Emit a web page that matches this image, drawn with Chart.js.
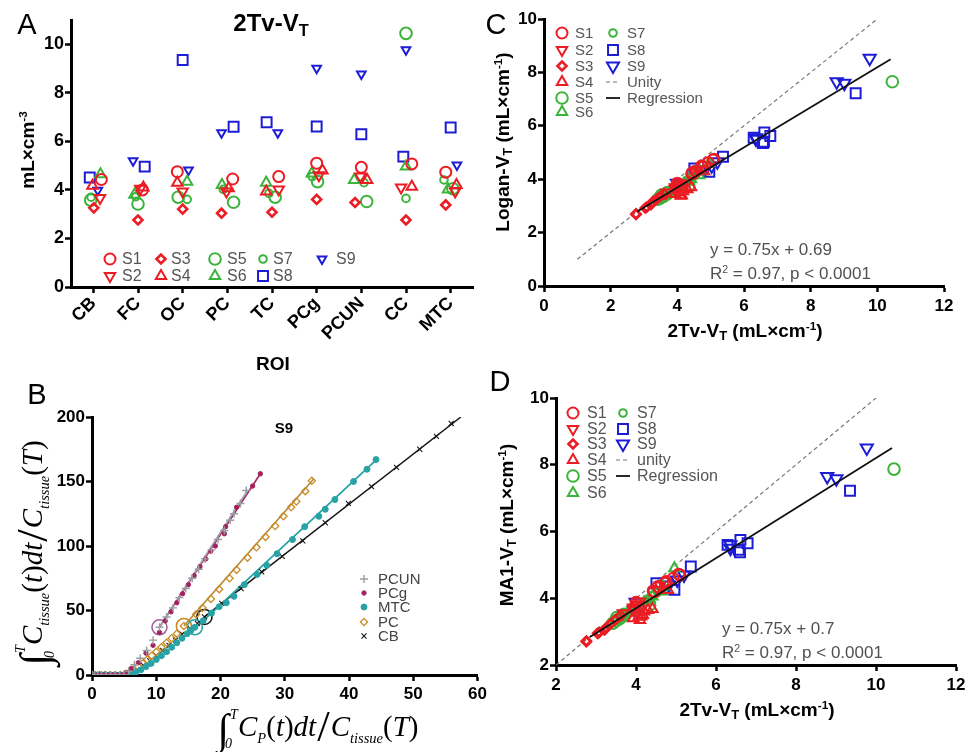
<!DOCTYPE html>
<html>
<head>
<meta charset="utf-8">
<script src="https://cdn.jsdelivr.net/npm/chart.js@4.4.1/dist/chart.umd.min.js"></script>
<style>
  html, body { margin: 0; padding: 0; background: #fff; }
  #page { position: relative; width: 971px; height: 752px; overflow: hidden; font-family: "Liberation Sans", Arial, sans-serif; }
  canvas { position: absolute; }
  .t { position: absolute; white-space: nowrap; line-height: 1; color: #000; z-index: 5; }
  .c { transform: translate(-50%, -50%); }
  .l { transform: translate(0, -50%); }
  .r90 { transform: translate(-50%, -50%) rotate(-90deg); }
  .b { font-weight: bold; }
  .panel { font-size: 29px; }
  sub { font-size: 0.68em; vertical-align: -0.3em; line-height: 0; }
  sup { font-size: 0.62em; vertical-align: 0.55em; line-height: 0; }
  .eq { font-size: 17px; color: #505050; }
  .math { font-family: "Liberation Serif", "DejaVu Serif", serif; font-size: 29px; }
  .math i { font-style: italic; }
  .math .int { font-size: 1.45em; font-style: italic; vertical-align: -0.18em; }
  .math .lim { display: inline-block; position: relative; width: 9px; height: 1px; font-size: 14px; font-style: italic; }
  .math .lim .up { position: absolute; left: 1px; top: -27px; }
  .math .lim .lo { position: absolute; left: -4px; top: 2px; }
  .math .sl { font-size: 1.55em; vertical-align: -0.12em; margin: 0 1px; }
  .math sub { font-size: 0.5em; vertical-align: -0.5em; }
</style>
</head>
<body>
<div id="page">
  <canvas id="cA" width="490" height="380" style="left:0;top:0"></canvas>
  <canvas id="cB" width="490" height="372" style="left:0;top:380px"></canvas>
  <canvas id="cC" width="481" height="380" style="left:490px;top:0"></canvas>
  <canvas id="cD" width="481" height="372" style="left:490px;top:380px"></canvas>

  <div class="t c panel" style="left:27px;top:24px">A</div>
  <div class="t c panel" style="left:37px;top:394px">B</div>
  <div class="t c panel" style="left:496px;top:24px">C</div>
  <div class="t c panel" style="left:500px;top:381px">D</div>

  <div class="t c b" style="left:271px;top:23px;font-size:24px">2Tv-V<sub>T</sub></div>
  <div class="t r90 b" style="left:27px;top:150px;font-size:19px">mL×cm<sup>-3</sup></div>
  <div class="t c b" style="left:273px;top:363px;font-size:19px">ROI</div>

  <div class="t c b" style="left:284px;top:427px;font-size:15px">S9</div>
  <div class="t r90 math" style="left:33px;top:553px"><span class="int">∫</span><span class="lim"><span class="up">T</span><span class="lo">0</span></span><i>C</i><sub><i>tissue</i></sub>(<i>t</i>)<i>dt</i><span class="sl">/</span><i>C</i><sub><i>tissue</i></sub>(<i>T</i>)</div>
  <div class="t c math" style="left:318px;top:727px"><span class="int">∫</span><span class="lim"><span class="up">T</span><span class="lo">0</span></span><i>C</i><sub><i>P</i></sub>(<i>t</i>)<i>dt</i><span class="sl">/</span><i>C</i><sub><i>tissue</i></sub>(<i>T</i>)</div>

  <div class="t c b" style="left:745px;top:330px;font-size:19px">2Tv-V<sub>T</sub> (mL×cm<sup>-1</sup>)</div>
  <div class="t r90 b" style="left:502px;top:142px;font-size:19px">Logan-V<sub>T</sub> (mL×cm<sup>-1</sup>)</div>
  <div id="eqC1" class="t l eq" style="left:710px;top:249px"></div>
  <div id="eqC2" class="t l eq" style="left:710px;top:273px">R<sup>2</sup> = 0.97, p &lt; 0.0001</div>

  <div class="t c b" style="left:757px;top:709px;font-size:19px">2Tv-V<sub>T</sub> (mL×cm<sup>-1</sup>)</div>
  <div class="t r90 b" style="left:506px;top:525px;font-size:19px">MA1-V<sub>T</sub> (mL×cm<sup>-1</sup>)</div>
  <div id="eqD1" class="t l eq" style="left:722px;top:628px"></div>
  <div id="eqD2" class="t l eq" style="left:722px;top:652px">R<sup>2</sup> = 0.97, p &lt; 0.0001</div>
</div>

<script>
// ---------- data ----------
const roiNames = ['CB', 'FC', 'OC', 'PC', 'TC', 'PCg', 'PCUN', 'CC', 'MTC'];
const subjectNames = ['S1', 'S2', 'S3', 'S4', 'S5', 'S6', 'S7', 'S8', 'S9'];

// V_T from the two-tissue model, one row per subject, one column per ROI
const twoTvVT = [
  [4.43, 4.00, 4.75, 4.45, 4.55, 5.10, 4.93, 5.07, 4.73],
  [3.67, 4.05, 3.93, 3.93, 4.02, 4.60, 4.55, 4.10, 3.93],
  [3.26, 2.76, 3.21, 3.04, 3.08, 3.61, 3.48, 2.76, 3.38],
  [4.17, 4.10, 4.30, 4.07, 3.93, 4.80, 4.41, 4.13, 4.20],
  [3.58, 3.42, 3.70, 3.49, 3.70, 4.34, 3.52, 10.45, 4.05],
  [4.65, 3.80, 4.34, 4.20, 4.30, 4.68, 4.41, 4.96, 4.02],
  [3.70, 3.72, 3.61, 4.02, 3.86, 4.55, 4.30, 3.65, 4.41],
  [4.51, 4.96, 9.35, 6.60, 6.79, 6.61, 6.29, 5.37, 6.57],
  [3.99, 5.20, 4.82, 6.36, 6.36, 9.01, 8.78, 9.77, 5.03]
];
// Logan graphical V_T, same layout
const loganVT = [
  [4.20, 3.85, 4.45, 4.25, 4.30, 4.75, 4.62, 4.72, 4.50],
  [3.50, 3.75, 3.62, 3.70, 3.80, 4.35, 4.25, 3.85, 3.65],
  [3.15, 2.68, 3.05, 2.92, 2.95, 3.45, 3.35, 2.70, 3.25],
  [3.55, 3.38, 3.62, 3.50, 3.45, 4.30, 3.70, 3.40, 3.65],
  [3.35, 3.25, 3.45, 3.30, 3.50, 3.75, 3.40, 7.65, 3.70],
  [4.15, 3.55, 3.95, 3.85, 3.90, 4.30, 4.00, 4.60, 3.70],
  [3.50, 3.45, 3.40, 3.72, 3.60, 4.15, 3.95, 3.40, 4.05],
  [4.40, 4.28, 7.22, 5.40, 5.62, 5.75, 5.55, 4.84, 5.35],
  [3.85, 4.65, 4.35, 5.55, 5.50, 7.59, 7.65, 8.53, 4.50]
];
// MA1 V_T, same layout
const ma1VT = [
  [4.22, 3.88, 4.50, 4.20, 4.35, 4.70, 4.60, 4.72, 4.45],
  [3.55, 3.80, 3.65, 3.72, 3.82, 4.38, 4.25, 3.90, 3.70],
  [3.12, 2.70, 3.05, 2.95, 2.98, 3.48, 3.35, 2.72, 3.25],
  [3.50, 3.35, 3.65, 3.45, 3.40, 4.25, 3.68, 3.45, 3.60],
  [3.38, 3.25, 3.48, 3.32, 3.52, 3.80, 3.42, 7.87, 3.72],
  [4.20, 3.58, 3.98, 3.88, 3.92, 4.35, 4.05, 4.90, 3.72],
  [3.52, 3.48, 3.42, 3.75, 3.62, 4.18, 3.98, 3.42, 4.08],
  [4.45, 4.25, 7.22, 5.38, 5.65, 5.75, 5.60, 4.95, 5.45],
  [3.88, 4.70, 4.40, 5.50, 5.60, 7.58, 7.65, 8.50, 4.55]
];

// regression fits (panel C: Logan vs 2Tv, panel D: MA1 vs 2Tv)
const fitLogan = { slope: 0.75, intercept: 0.69, xFrom: 2.8, xTo: 10.4 };
const fitMA1 = { slope: 0.75, intercept: 0.7, xFrom: 2.85, xTo: 10.4 };
const unityC = [1, 10];
const unityD = [2, 10];

// Logan plot of subject S9: [x, y] frames per region
const loganPCUN = [[0,0],[0.4,0],[0.9,0],[1.5,0],[2.2,0],[2.9,0],[3.6,0],[4.3,0],[5,0],[5.7,3],[6.6,8],[7.5,13],[8.5,19],[9.5,27],[10.5,37],[11.6,45],[12.6,52],[13.6,60],[14.6,67],[15.6,75],[16.6,82],[17.6,90],[18.6,97],[19.6,105],[20.6,112],[21.5,120],[22.1,125],[23.1,133],[24,143]];
const loganPCg = [[0,0],[0.5,0],[1.1,0],[1.8,0],[2.5,0],[3.2,0],[3.9,0],[4.6,0],[5.3,2],[6.1,5],[7.2,9.5],[8.4,17],[9.5,23],[10.5,33],[11.4,42],[12.3,49],[13.2,56],[14.1,63],[15,70],[15.9,77],[16.8,84],[17.7,90],[18.5,96],[19.2,100],[20.6,109.5],[20.8,115],[22.5,130],[25,146.5],[26.2,156]];
const loganMTC = [[0,0],[0.5,0],[1.2,0],[2,0],[2.8,0],[3.6,0],[4.4,0],[5.2,0],[6,0.5],[6.8,2],[7.6,4],[8.4,6.5],[9.2,9],[10,12],[10.8,15],[11.6,18],[12.4,21.5],[13.2,25],[14,28.5],[14.8,32],[15.4,34.5],[16,37],[17.3,42],[18.6,48],[19.8,53],[20.9,56],[22.1,61],[23.7,70],[25.7,78],[27.2,85],[28.8,94],[31.2,105],[33.1,115],[35.3,123],[36.3,128.5],[37.8,136],[40.7,150],[42.8,159.5],[44.2,167]];
const loganPC = [[0,0],[0.5,0],[1.2,0],[2,0],[2.8,0],[3.6,0],[4.4,0],[5.1,0.5],[5.8,2],[6.5,4],[7.2,6.5],[7.9,9],[8.6,12],[9.3,15],[10,18],[10.8,21.5],[11.6,25],[12.4,28.5],[13.2,32],[14.3,38],[16.2,47],[17.2,52],[18.5,59],[19.8,66.5],[21.4,75],[22.5,81.5],[24.2,91],[25.6,99],[27,107],[28.5,115.5],[29.8,123],[31,130],[31.8,134.5],[33.2,142.5],[34.2,150.5]];
const loganCB = [[0,0],[0.6,0],[1.3,0],[2.1,0],[2.9,0],[3.7,0],[4.5,0],[5.3,0.3],[6.1,1.8],[7,4],[8,7.5],[9,11],[10,15],[11,19],[12,23],[13,27],[14,31.5],[15.3,36],[16.4,40],[17.5,45],[20.2,55.5],[23.2,67],[26.4,80],[29.6,92],[32.8,104],[36.3,118],[39.9,133],[43.5,146],[47.4,161],[51,175],[53.6,185],[55.9,195]];
// first frame used in each linear fit, and the fitted segments
const fitStartIndex = { PCUN: 14, MTC: 21, PC: 19, CB: 19 };
const fitLinePCUN = [[10.5,37],[24.2,143]];
const fitLinePCg = [[10.5,37],[26.2,156]];
const fitLineMTC = [[16,36],[44.4,167.5]];
const fitLinePC = [[14.3,38],[34.5,152]];
const fitLineCB = [[17.5,45],[57.4,200]];

// axis ticks
const ticksA_y = [0, 2, 4, 6, 8, 10];
const ticksA_x = [1, 2, 3, 4, 5, 6, 7, 8, 9];
const ticksB_x = [0, 10, 20, 30, 40, 50, 60];
const ticksB_y = [0, 50, 100, 150, 200];
const ticksC_x = [0, 2, 4, 6, 8, 10, 12];
const ticksC_y = [0, 2, 4, 6, 8, 10];
const ticksD_x = [2, 4, 6, 8, 10, 12];
const ticksD_y = [2, 4, 6, 8, 10];

// ---------- layout / style ----------
const FONT = '"Liberation Sans", Arial, sans-serif';
const RED = '#ec1c24', GREEN = '#3cb43c', BLUE = '#1c1cd6';
const subjectStyle = [
  { color: RED,   style: 'circle',   r: 5.5, rot: 0 },
  { color: RED,   style: 'triangle', r: 6,   rot: 180 },
  { color: RED,   style: 'rectRot',  r: 4.5, rot: 0 },
  { color: RED,   style: 'triangle', r: 6,   rot: 0 },
  { color: GREEN, style: 'circle',   r: 5.8, rot: 0 },
  { color: GREEN, style: 'triangle', r: 6,   rot: 0 },
  { color: GREEN, style: 'circle',   r: 3.8, rot: 0 },
  { color: BLUE,  style: 'rect',     r: 7,   rot: 0 },
  { color: BLUE,  style: 'triangle', r: 5,   rot: 180 }
];
// horizontal spread of the points inside each ROI column (panel A)
const jitterA = [
  [0.18, 0.10, -0.12, 0.12, 0.15, 0.00, 0.00, 0.13, -0.11],
  [0.15, 0.05, 0.00, -0.02, 0.15, 0.05, -0.02, -0.11, 0.10],
  [0.01, 0.00, 0.00, -0.13, 0.00, 0.00, -0.14, 0.00, -0.11],
  [-0.02, 0.12, -0.12, 0.03, -0.13, 0.13, 0.13, 0.13, 0.13],
  [-0.06, 0.00, -0.10, 0.14, 0.07, 0.02, 0.12, 0.00, 0.05],
  [0.16, -0.08, 0.10, -0.12, -0.13, -0.11, -0.16, 0.00, -0.06],
  [-0.05, -0.05, 0.10, -0.09, -0.07, -0.10, 0.06, 0.00, -0.15],
  [-0.08, 0.15, 0.00, 0.14, -0.12, 0.00, 0.00, -0.06, 0.00],
  [0.10, -0.11, 0.13, -0.13, 0.13, 0.00, 0.00, 0.00, 0.14]
];

function axis(min, max, ticks, size, extra) {
  extra = extra || {};
  return {
    type: 'linear', min: min, max: max,
    border: { display: true, width: 3, color: '#000' },
    grid: { display: true, drawOnChartArea: false, drawTicks: true, tickLength: 6,
            tickWidth: 2.5, tickColor: '#000', color: '#000', lineWidth: 1 },
    ticks: Object.assign({ color: '#000', font: { family: FONT, size: 17, weight: 'bold' },
                           padding: 2, autoSkip: false, maxRotation: 0, minRotation: 0 }, extra.ticks || {}),
    afterBuildTicks: s => { s.ticks = ticks.map(v => ({ value: v })); },
    afterFit: s => { if (s.isHorizontal()) s.height = size; else s.width = size; }
  };
}

function pointDataset(label, data, st, bw, radius) {
  return {
    label: label, data: data, showLine: false,
    pointStyle: st.style, pointRadius: radius || st.r, pointRotation: st.rot || 0,
    pointBorderColor: st.color, pointBackgroundColor: st.fill || 'rgba(0,0,0,0)',
    pointBorderWidth: bw, borderColor: st.color, backgroundColor: st.fill || 'rgba(0,0,0,0)',
    pointHoverRadius: radius || st.r
  };
}

function lineDataset(label, pts, color, width, dash) {
  return {
    label: label, data: pts.map(p => ({ x: p[0], y: p[1] })), showLine: true,
    borderColor: color, borderWidth: width, borderDash: dash || [], pointRadius: 0,
    pointHoverRadius: 0, fill: false, tension: 0
  };
}

function legendPlugin(items, font, color) {
  return {
    id: 'panelLegend',
    afterDraw(chart) {
      const ctx = chart.ctx;
      ctx.save();
      items.forEach(it => {
        const ds = chart.data.datasets[it.ds];
        if (it.line) {
          ctx.beginPath();
          ctx.strokeStyle = ds.borderColor;
          ctx.lineWidth = ds.borderWidth;
          ctx.setLineDash(ds.borderDash || []);
          ctx.moveTo(it.x - 7, it.y);
          ctx.lineTo(it.x + 7, it.y);
          ctx.stroke();
          ctx.setLineDash([]);
        } else {
          ctx.strokeStyle = ds.pointBorderColor;
          ctx.fillStyle = ds.pointBackgroundColor;
          ctx.lineWidth = ds.pointBorderWidth;
          Chart.helpers.drawPoint(ctx, {
            pointStyle: ds.pointStyle, radius: ds.pointRadius,
            rotation: ds.pointRotation || 0, borderWidth: ds.pointBorderWidth
          }, it.x, it.y);
        }
        ctx.fillStyle = color;
        ctx.font = font;
        ctx.textBaseline = 'middle';
        ctx.textAlign = 'left';
        ctx.fillText(ds.label, it.tx, it.y + 1);
      });
      ctx.restore();
    }
  };
}

function baseOptions(scales, pad) {
  return {
    responsive: false, animation: false, events: [],
    layout: { padding: pad, autoPadding: false },
    plugins: { legend: { display: false }, tooltip: { enabled: false }, title: { display: false } },
    scales: scales
  };
}

// ---------- panel A: V_T per ROI ----------
const dsA = subjectNames.map((name, i) =>
  pointDataset(name, twoTvVT[i].map((v, j) => ({ x: ticksA_x[j] + jitterA[i][j], y: v })),
               subjectStyle[i], i === 2 ? 2.6 : 2));
const legendA = [
  { ds: 0, x: 110, y: 259, tx: 122 }, { ds: 1, x: 110, y: 276, tx: 122 },
  { ds: 2, x: 161, y: 259, tx: 171 }, { ds: 3, x: 161, y: 276, tx: 171 },
  { ds: 4, x: 215, y: 259, tx: 227 }, { ds: 5, x: 215, y: 276, tx: 227 },
  { ds: 6, x: 263, y: 259, tx: 273 }, { ds: 7, x: 263, y: 276, tx: 273 },
  { ds: 8, x: 322, y: 259, tx: 336 }
];
const scalesA = {
  x: axis(0.5, 9.5, ticksA_x, 93, { ticks: { minRotation: 45, maxRotation: 45, padding: 0,
       font: { family: FONT, size: 18, weight: 'bold' }, callback: v => roiNames[v - 1] } }),
  y: axis(0, 11, ticksA_y, 71, { ticks: { padding: 1, font: { family: FONT, size: 18, weight: 'bold' } } })
};
new Chart(document.getElementById('cA'), {
  type: 'scatter', data: { datasets: dsA },
  options: baseOptions(scalesA, { left: 0, top: 20, right: 17, bottom: 0 }),
  plugins: [legendPlugin(legendA, '16px ' + FONT, '#555')]
});

// ---------- panel B: Logan plot, S9 ----------
const stB = {
  PCUN: { color: '#9c9ca4', style: 'cross', r: 4, rot: 0 },
  PCg:  { color: '#a2245e', style: 'circle', r: 2.2, rot: 0, fill: '#a2245e' },
  MTC:  { color: '#27a3a5', style: 'circle', r: 3, rot: 0, fill: '#27a3a5' },
  PC:   { color: '#c98b26', style: 'rectRot', r: 3.6, rot: 0 },
  CB:   { color: '#161616', style: 'crossRot', r: 3.6, rot: 0 }
};
const xy = arr => arr.map(p => ({ x: p[0], y: p[1] }));
const fitCircle = (arr, key, color) => ({
  label: key + ' fit start', data: [xy(arr)[fitStartIndex[key]]], showLine: false,
  pointStyle: 'circle', pointRadius: 7.5, pointBorderWidth: 1.6,
  pointBorderColor: color, pointBackgroundColor: 'rgba(0,0,0,0)', pointHoverRadius: 7.5
});
const dsB = [
  pointDataset('PCUN', xy(loganPCUN), stB.PCUN, 1.4),
  pointDataset('PCg', xy(loganPCg), stB.PCg, 1),
  pointDataset('MTC', xy(loganMTC), stB.MTC, 1),
  pointDataset('PC', xy(loganPC), stB.PC, 1.3),
  pointDataset('CB', xy(loganCB), stB.CB, 1.1),
  fitCircle(loganPCUN, 'PCUN', '#a2609a'),
  fitCircle(loganMTC, 'MTC', '#27a3a5'),
  fitCircle(loganPC, 'PC', '#c98b26'),
  fitCircle(loganCB, 'CB', '#161616'),
  lineDataset('PCUN fit', fitLinePCUN, '#a0a0a8', 1.6),
  lineDataset('PCg fit', fitLinePCg, '#a2245e', 1.6),
  lineDataset('MTC fit', fitLineMTC, '#27a3a5', 1.8),
  lineDataset('PC fit', fitLinePC, '#b8862e', 1.6),
  lineDataset('CB fit', fitLineCB, '#161616', 1.5)
];
const legendB = [
  { ds: 0, x: 364, y: 199, tx: 378 }, { ds: 1, x: 364, y: 213, tx: 378 },
  { ds: 2, x: 364, y: 227, tx: 378 }, { ds: 3, x: 364, y: 242, tx: 378 },
  { ds: 4, x: 364, y: 256, tx: 378 }
];
const scalesB = {
  x: axis(0, 60, ticksB_x, 77, { ticks: { padding: 3 } }),
  y: axis(0, 200, ticksB_y, 92, { ticks: { padding: 1 } })
};
new Chart(document.getElementById('cB'), {
  type: 'scatter', data: { datasets: dsB },
  options: baseOptions(scalesB, { left: 0, top: 37, right: 10, bottom: 0 }),
  plugins: [legendPlugin(legendB, '15px ' + FONT, '#444')]
});

// ---------- panels C and D: method comparison ----------
function comparisonDatasets(yVals, fit, unity) {
  const ds = [];
  ds.push(lineDataset('Regression', [[fit.xFrom, fit.slope * fit.xFrom + fit.intercept],
                                     [fit.xTo, fit.slope * fit.xTo + fit.intercept]], '#111', 1.8));
  subjectNames.forEach((name, i) => {
    const st = Object.assign({}, subjectStyle[i]);
    if (i === 8) st.r = 7;
    ds.push(pointDataset(name, twoTvVT[i].map((v, j) => ({ x: v, y: yVals[i][j] })), st, i === 2 ? 2.6 : 2));
  });
  ds.push(lineDataset('Unity', [[unity[0], unity[0]], [unity[1], unity[1]]], '#777', 1.2, [4, 3]));
  return ds;
}

const dsC = comparisonDatasets(loganVT, fitLogan, unityC);
const legendC = [
  { ds: 1, x: 72, y: 33, tx: 85 }, { ds: 2, x: 72, y: 50, tx: 85 }, { ds: 3, x: 72, y: 66, tx: 85 },
  { ds: 4, x: 72, y: 82, tx: 85 }, { ds: 5, x: 72, y: 98, tx: 85 }, { ds: 6, x: 72, y: 112, tx: 85 },
  { ds: 7, x: 123, y: 33, tx: 137 }, { ds: 8, x: 123, y: 50, tx: 137 }, { ds: 9, x: 123, y: 66, tx: 137 },
  { ds: 10, x: 123, y: 82, tx: 137, line: true }, { ds: 0, x: 123, y: 98, tx: 137, line: true }
];
const scalesC = {
  x: axis(0, 12, ticksC_x, 94, { ticks: { padding: 4 } }),
  y: axis(0, 10, ticksC_y, 54, { ticks: { padding: 1 } })
};
new Chart(document.getElementById('cC'), {
  type: 'scatter', data: { datasets: dsC },
  options: baseOptions(scalesC, { left: 0, top: 19, right: 27, bottom: 0 }),
  plugins: [legendPlugin(legendC, '15px ' + FONT, '#555')]
});

const dsD = comparisonDatasets(ma1VT, fitMA1, unityD);
dsD[dsD.length - 1].label = 'unity';
const legendD = [
  { ds: 1, x: 83, y: 33, tx: 97 }, { ds: 2, x: 83, y: 49, tx: 97 }, { ds: 3, x: 83, y: 64, tx: 97 },
  { ds: 4, x: 83, y: 80, tx: 97 }, { ds: 5, x: 83, y: 96, tx: 97 }, { ds: 6, x: 83, y: 113, tx: 97 },
  { ds: 7, x: 133, y: 33, tx: 147 }, { ds: 8, x: 133, y: 49, tx: 147 }, { ds: 9, x: 133, y: 64, tx: 147 },
  { ds: 10, x: 133, y: 80, tx: 147, line: true }, { ds: 0, x: 133, y: 96, tx: 147, line: true }
];
const scalesD = {
  x: axis(2, 12, ticksD_x, 87, { ticks: { padding: 4 } }),
  y: axis(2, 10, ticksD_y, 66, { ticks: { padding: 1 } })
};
new Chart(document.getElementById('cD'), {
  type: 'scatter', data: { datasets: dsD },
  options: baseOptions(scalesD, { left: 0, top: 18, right: 15, bottom: 0 }),
  plugins: [legendPlugin(legendD, '16px ' + FONT, '#555')]
});

// regression equations
document.getElementById('eqC1').textContent = 'y = ' + fitLogan.slope + 'x + ' + fitLogan.intercept;
document.getElementById('eqD1').textContent = 'y = ' + fitMA1.slope + 'x + ' + fitMA1.intercept;
</script>
</body>
</html>
